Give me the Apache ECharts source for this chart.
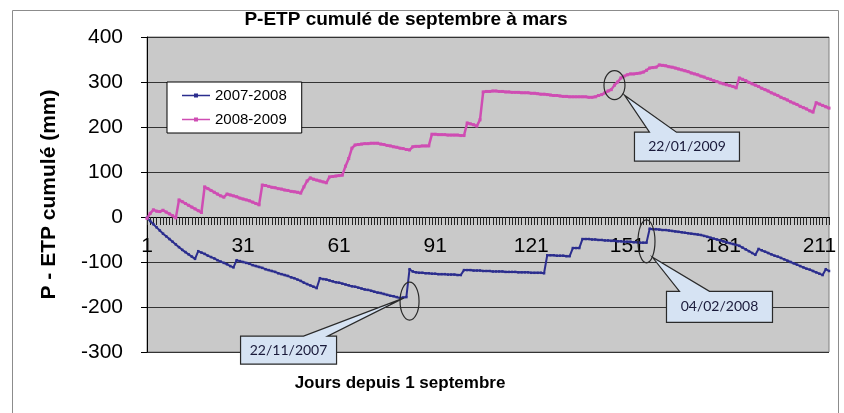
<!DOCTYPE html>
<html>
<head>
<meta charset="utf-8">
<script src="https://cdn.jsdelivr.net/npm/echarts@6/dist/echarts.min.js"></script>
<style>
html, body { margin: 0; padding: 0; background: #fff; }
#chart { width: 844px; height: 413px; }
</style>
</head>
<body>
<div id="chart"></div>
<script>
// jours depuis le 1er septembre
const days = Array.from({ length: 214 }, (_, i) => String(i + 1));

// P-ETP cumulé 2007-2008 (mm)
const cumul0708 = [
  -2, -9, -16, -23, -30, -37, -43, -49, -55, -61,
  -67, -73, -78, -83, -88, -93, -76, -79, -82, -86,
  -89, -92, -96, -99, -102, -105, -109, -112, -96, -98,
  -100, -102, -104, -107, -109, -111, -113, -116, -118, -120,
  -122, -125, -127, -129, -131, -134, -136, -139, -142, -146,
  -149, -152, -155, -158, -136, -138, -139, -141, -143, -145,
  -146, -148, -150, -152, -154, -155, -157, -159, -161, -162,
  -164, -166, -168, -169, -171, -173, -175, -176, -178, -180,
  -179, -178, -116, -121, -123, -124, -124, -125, -125, -126,
  -126, -127, -127, -127, -128, -128, -128, -129, -129, -118,
  -118, -118, -119, -119, -119, -120, -120, -120, -121, -121,
  -121, -121, -122, -122, -122, -122, -123, -123, -123, -123,
  -124, -124, -124, -124, -125, -85, -85, -85, -86, -86,
  -86, -87, -87, -69, -69, -69, -49, -49, -49, -50,
  -50, -51, -51, -52, -52, -53, -53, -54, -54, -55,
  -55, -55, -56, -56, -57, -57, -57, -26, -27, -27,
  -28, -29, -29, -30, -31, -32, -33, -34, -35, -36,
  -37, -38, -39, -40, -42, -44, -46, -48, -50, -52,
  -54, -56, -58, -60, -62, -64, -68, -72, -76, -80,
  -84, -71, -74, -77, -80, -83, -86, -88, -91, -94,
  -97, -100, -103, -106, -109, -112, -115, -117, -120, -123,
  -126, -129, -116, -120
];

// P-ETP cumulé 2008-2009 (mm)
const cumul0809 = [
  -3, 8, 16, 13, 12, 15, 11, 7, 3, -2,
  38, 34, 30, 26, 22, 18, 14, 10, 67, 63,
  59, 55, 51, 47, 44, 51, 49, 47, 45, 42,
  40, 38, 36, 33, 30, 27, 71, 70, 68, 66,
  65, 63, 62, 60, 59, 57, 56, 55, 53, 67,
  80, 87, 84, 82, 80, 78, 76, 89, 90, 91,
  92, 93, 113, 130, 153, 160, 161, 162, 163, 163,
  164, 164, 164, 162, 161, 159, 158, 156, 155, 153,
  152, 150, 149, 156, 157, 157, 158, 158, 158, 184,
  184, 183, 183, 183, 182, 182, 182, 182, 181, 181,
  209, 207, 205, 202, 216, 278, 279, 279, 280, 280,
  279, 279, 278, 278, 277, 277, 277, 276, 276, 276,
  275, 275, 274, 273, 273, 272, 271, 270, 270, 269,
  268, 268, 267, 267, 267, 267, 267, 267, 266, 266,
  267, 270, 272, 276, 280, 283, 293, 300, 309, 313,
  316, 318, 318, 319, 320, 322, 326, 331, 332, 333,
  338, 337, 336, 334, 333, 331, 329, 327, 325, 323,
  320, 318, 316, 313, 311, 308, 306, 303, 301, 298,
  296, 294, 292, 290, 287, 309, 306, 303, 299, 296,
  293, 290, 286, 283, 280, 276, 273, 270, 266, 263,
  260, 256, 253, 250, 246, 243, 240, 236, 233, 254,
  251, 248, 245, 242
];

// annotations (jour, valeur, texte)
const noteDays = [147, 83, 157];
const noteValues = [293, -187, -54];
const noteLabels = ["22/01/2009", "22/11/2007", "04/02/2008"];

const FONT = "'Liberation Sans', Arial, sans-serif";
// petit trait avec marqueur carré pour la légende
const LEGEND_ICON = "path://M0,1.2 L12,1.2 L12,0 L16,0 L16,1.2 L28,1.2 L28,2.8 L16,2.8 L16,4 L12,4 L12,2.8 L0,2.8 Z";

const chart = echarts.init(document.getElementById("chart"));
chart.setOption({
  animation: false,
  grid: {
    left: 147,
    right: 15,
    top: 37,
    bottom: 61,
    show: true,
    backgroundColor: "#c9c9c9",
    borderColor: "#7f7f7f",
    borderWidth: 1
  },
  legend: {
    orient: "vertical",
    left: 167,
    top: 82,
    padding: [6, 15, 6, 15],
    icon: LEGEND_ICON,
    itemWidth: 28,
    itemHeight: 4,
    itemGap: 9,
    backgroundColor: "#fff",
    borderColor: "#000",
    borderWidth: 1,
    borderRadius: 0,
    textStyle: { fontFamily: FONT, fontSize: 15, color: "#000" },
    data: ["2007-2008", "2008-2009"]
  },
  xAxis: {
    type: "category",
    boundaryGap: false,
    data: days,
    // l'axe des jours passe par le zéro
    offset: -135,
    axisLine: { onZero: false, lineStyle: { color: "#000", width: 1 } },
    axisTick: { interval: 0, length: 8, lineStyle: { color: "#222" } },
    axisLabel: {
      interval: 29,
      margin: 19,
      fontFamily: FONT,
      fontSize: 21,
      color: "#000"
    },
    splitLine: { show: false }
  },
  yAxis: {
    type: "value",
    min: -300,
    max: 400,
    interval: 100,
    name: "P - ETP cumulé (mm)",
    nameLocation: "middle",
    nameGap: 87,
    nameTextStyle: { fontFamily: FONT, fontSize: 21, fontWeight: "bold", color: "#000" },
    axisLine: { show: true, lineStyle: { color: "#000" } },
    axisTick: { show: true, length: 6, lineStyle: { color: "#000" } },
    axisLabel: { margin: 24, fontFamily: FONT, fontSize: 21, color: "#000" },
    splitLine: { lineStyle: { color: "#333", width: 1 } }
  },
  series: [
    {
      name: "2007-2008",
      type: "line",
      data: cumul0708,
      symbol: "rect",
      symbolSize: 2.5,
      showAllSymbol: true,
      lineStyle: { color: "#2b2d8e", width: 2 },
      itemStyle: { color: "#2b2d8e" }
    },
    {
      name: "2008-2009",
      type: "line",
      data: cumul0809,
      symbol: "rect",
      symbolSize: 3,
      showAllSymbol: true,
      lineStyle: { color: "#cf4db3", width: 2.5 },
      itemStyle: { color: "#cf4db3" }
    }
  ]
});

// bulles : ellipse autour du point + rectangle avec pointe
const shapes = [
  { rx: 10.5, ry: 14.5, box: [20, 47, 125, 76], tip: [10, 10], base: [35, 62] },
  { rx: 9.5, ry: 19, box: [-169, 35, -73, 63], tip: [-6, -3], base: [-106, -82] },
  { rx: 8.5, ry: 21.5, box: [20, 50, 126, 81], tip: [6, 16], base: [33, 63] }
];

const graphics = [
  {
    type: "rect",
    shape: { x: 12.5, y: 10.5, width: 826, height: 430 },
    style: { fill: "none", stroke: "#8c8c8c", lineWidth: 1 },
    silent: true
  },
  {
    type: "text",
    x: 406,
    y: 20,
    style: {
      text: "P-ETP cumulé de septembre à mars",
      font: "bold 19px " + FONT,
      fill: "#000",
      align: "center",
      verticalAlign: "middle"
    }
  },
  {
    type: "text",
    x: 400,
    y: 383,
    style: {
      text: "Jours depuis 1 septembre",
      font: "bold 17px " + FONT,
      fill: "#000",
      align: "center",
      verticalAlign: "middle"
    }
  }
];

noteDays.forEach((d, i) => {
  const c = chart.convertToPixel({ xAxisIndex: 0, yAxisIndex: 0 }, [d - 1, noteValues[i]]);
  const s = shapes[i];
  const cx = c[0], cy = c[1];
  const b = s.box;
  const pts = [
    [cx + b[0], cy + b[1]],
    [cx + s.base[0], cy + b[1]],
    [cx + s.tip[0], cy + s.tip[1]],
    [cx + s.base[1], cy + b[1]],
    [cx + b[2], cy + b[1]],
    [cx + b[2], cy + b[3]],
    [cx + b[0], cy + b[3]]
  ];
  graphics.push({
    type: "polygon",
    shape: { points: pts },
    style: { fill: "#d6e3f3", stroke: "#2a2a2a", lineWidth: 1.2 },
    z: 100
  });
  graphics.push({
    type: "ellipse",
    shape: { cx: cx, cy: cy, rx: s.rx, ry: s.ry },
    style: { fill: "none", stroke: "#2a2a2a", lineWidth: 1.2 },
    z: 100
  });
  graphics.push({
    type: "text",
    x: cx + (b[0] + b[2]) / 2,
    y: cy + (b[1] + b[3]) / 2,
    style: {
      text: noteLabels[i],
      font: "14px Lato, 'Open Sans', sans-serif",
      fill: "#1a1a3a",
      align: "center",
      verticalAlign: "middle"
    },
    z: 101
  });
});

chart.setOption({ graphic: graphics });
</script>
</body>
</html>
